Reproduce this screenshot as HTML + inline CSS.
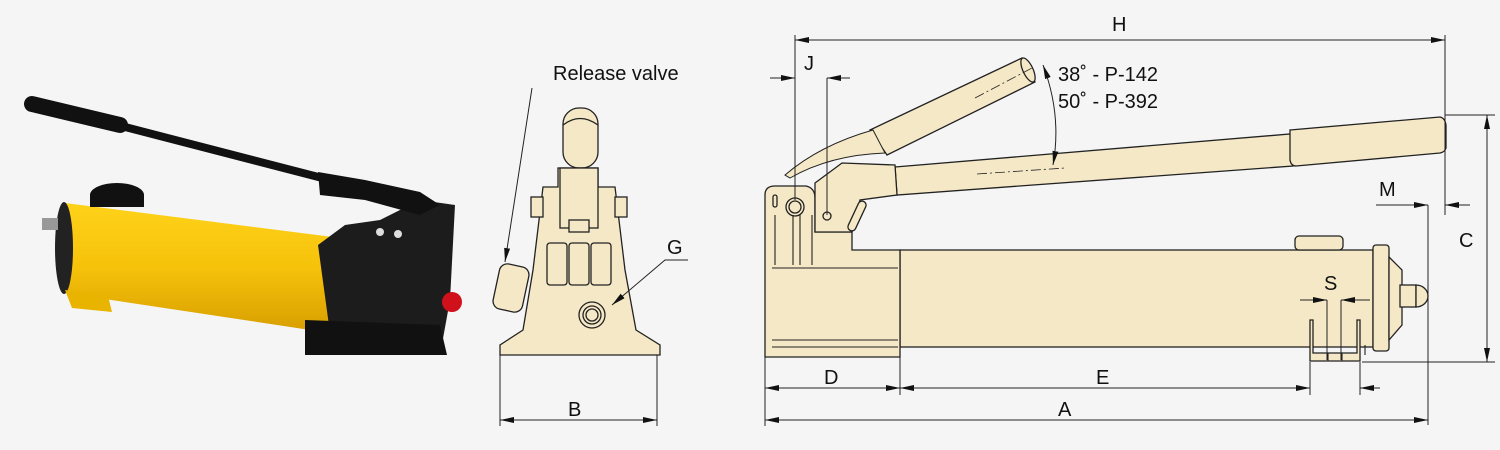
<!DOCTYPE html>
<html><head><meta charset="utf-8"><style>
html,body{margin:0;padding:0;background:#f5f5f5;}
svg{display:block;}
text{font-family:"Liberation Sans",sans-serif;fill:#111;}
</style></head><body>
<svg width="1500" height="450" viewBox="0 0 1500 450" xmlns="http://www.w3.org/2000/svg">
<defs>
<marker id="ar" viewBox="0 0 14 6" refX="14" refY="3" markerWidth="14" markerHeight="6" orient="auto-start-reverse" markerUnits="userSpaceOnUse"><path d="M0,0 L14,3 L0,6z" fill="#111"/></marker>
<linearGradient id="yel" x1="0" y1="0" x2="0" y2="1"><stop offset="0" stop-color="#ffd21a"/><stop offset="0.5" stop-color="#f6c20a"/><stop offset="1" stop-color="#d79e00"/></linearGradient>
</defs>
<rect width="1500" height="450" fill="#f5f5f5"/>

<!-- PHOTO -->
<g>
<polygon points="65,203 333,237 330,333 65,293 58,250" fill="url(#yel)"/>
<ellipse cx="64" cy="248" rx="9" ry="46" fill="#222"/>
<rect x="42" y="218" width="16" height="12" fill="#999"/>
<polygon points="65,290 108,296 112,312 72,308" fill="#e8b400"/>
<ellipse cx="117" cy="195" rx="27" ry="12" fill="#111"/>
<rect x="90" y="195" width="54" height="12" fill="#111"/>
<polygon points="318,245 345,225 380,220 420,200 455,205 450,300 440,355 305,355 305,330 330,333" fill="#1c1c1c"/>
<polygon points="305,320 440,325 447,355 305,355" fill="#111"/>
<circle cx="452" cy="302" r="10" fill="#d0101a"/>
<circle cx="380" cy="232" r="4" fill="#ddd"/><circle cx="398" cy="234" r="4" fill="#ddd"/>
<line x1="125" y1="127" x2="330" y2="180" stroke="#111" stroke-width="8"/>
<line x1="32" y1="104" x2="120" y2="125" stroke="#111" stroke-width="16" stroke-linecap="round"/>
<polygon points="318,172 365,180 420,192 440,205 420,215 365,200 320,195" fill="#111"/>
</g>

<!-- FRONT VIEW -->
<g fill="#f5e8c6" stroke="#222" stroke-width="1.3">
<rect x="563" y="108" width="35" height="60" rx="16"/>
<path d="M563,125 Q580,112 598,125" fill="none"/>
<polygon points="543,187 558,187 558,168 598,168 598,187 615,187 625,270 636,330 660,345 660,355 500,355 500,345 523,330 533,270"/>
<rect x="531" y="197" width="12" height="20"/><rect x="615" y="197" width="12" height="20"/>
<rect x="560" y="168" width="38" height="60"/>
<rect x="569" y="220" width="20" height="12"/>
<rect x="547" y="243" width="20" height="42" rx="3"/><rect x="569" y="243" width="20" height="42" rx="3"/><rect x="591" y="243" width="20" height="42" rx="3"/>
<rect x="496" y="265" width="30" height="46" rx="8" transform="rotate(12 511 288)"/>
<circle cx="592" cy="315" r="13"/><circle cx="592" cy="315" r="9"/><circle cx="592" cy="315" r="6"/>
</g>
<g stroke="#222" stroke-width="1" fill="none">
<line x1="500" y1="355" x2="500" y2="426"/><line x1="657" y1="355" x2="657" y2="426"/>
<line x1="500" y1="420" x2="657" y2="420" marker-start="url(#ar)" marker-end="url(#ar)"/>
<line x1="532" y1="88" x2="505" y2="262" marker-end="url(#ar)"/>
<polyline points="688,260 665,260 612,305" marker-end="url(#ar)"/>
</g>
<text x="553" y="80" font-size="20">Release valve</text>
<text x="667" y="254" font-size="20">G</text>
<text x="568" y="416" font-size="20">B</text>

<!-- SIDE VIEW -->
<g fill="#f5e8c6" stroke="#222" stroke-width="1.3">
<polygon points="870,130 1022,58 1035,82 887,155"/>
<ellipse cx="1028" cy="70" rx="5" ry="13" transform="rotate(-25 1028 70)"/>
<path d="M785,175 Q820,145 873,130 L885,153 Q830,155 790,178z" stroke-width="1"/>
<polygon points="895,167 1290,134 1293,166 897,195"/>
<path d="M1290,130 L1440,117 Q1445,118 1446,125 L1446,148 Q1445,152 1440,153 L1296,166 Q1291,166 1290,160z"/>
<rect x="900" y="250" width="473" height="97"/>
<rect x="1295" y="236" width="48" height="14" rx="4"/>
<rect x="1373" y="245" width="16" height="106" rx="3"/>
<polygon points="1389,257 1402,270 1402,325 1389,340"/>
<rect x="1400" y="285" width="16" height="22"/>
<path d="M1416,285 A12,11 0 0 1 1416,307z"/>
<path d="M1310,320 L1310,361 L1360,361 L1360,320 L1357,320 L1357,353 L1313,353 L1313,320z"/>
<path d="M765,195 Q765,186 775,186 L806,186 Q815,188 815,198 L815,232 L852,232 L852,250 L900,250 L900,357 L765,357z"/>
<path d="M815,183 L842,163 L895,165 L897,195 L860,200 L852,232 L815,232z"/>
<rect x="853" y="200" width="8" height="32" rx="4" transform="rotate(25 857 216)"/>
<circle cx="795" cy="207" r="9"/><circle cx="795" cy="207" r="6"/>
<circle cx="827" cy="216" r="4"/>
<rect x="773" y="195" width="4" height="12" rx="2"/>
</g>
<g stroke="#222" stroke-width="1.1" fill="none">
<line x1="772" y1="268" x2="898" y2="268"/>
<line x1="772" y1="340" x2="898" y2="340"/><line x1="772" y1="347" x2="898" y2="347"/>
<path d="M775,215 L775,265 M793,215 L793,265 M800,215 L800,265 M812,215 L812,265"/>
<path d="M1365,355 L1365,345 M1328,353 L1328,361 M1342,353 L1342,361"/>
</g>
<g stroke="#222" stroke-width="0.8" stroke-dasharray="10,3,2,3" fill="none">
<line x1="975" y1="98" x2="1032" y2="68"/>
<line x1="977" y1="174" x2="1065" y2="168"/>
</g>
<g stroke="#222" stroke-width="1" fill="none">
<line x1="795" y1="35" x2="795" y2="200"/>
<line x1="1445" y1="35" x2="1445" y2="215"/>
<line x1="795" y1="40" x2="1445" y2="40" marker-start="url(#ar)" marker-end="url(#ar)"/>
<line x1="827" y1="78" x2="827" y2="215"/>
<line x1="770" y1="78" x2="795" y2="78" marker-end="url(#ar)"/>
<line x1="850" y1="78" x2="827" y2="78" marker-end="url(#ar)"/>
<path d="M1043,65 Q1062,115 1053,165" marker-start="url(#ar)" marker-end="url(#ar)"/>
<line x1="1445" y1="115" x2="1495" y2="115"/>
<line x1="1362" y1="362" x2="1495" y2="362"/>
<line x1="1487" y1="115" x2="1487" y2="362" marker-start="url(#ar)" marker-end="url(#ar)"/>
<line x1="1428" y1="205" x2="1428" y2="425"/>
<line x1="1376" y1="205" x2="1428" y2="205" marker-end="url(#ar)"/>
<line x1="1470" y1="205" x2="1445" y2="205" marker-end="url(#ar)"/>
<line x1="1327" y1="300" x2="1327" y2="360"/><line x1="1341" y1="300" x2="1341" y2="360"/>
<line x1="1300" y1="300" x2="1327" y2="300" marker-end="url(#ar)"/>
<line x1="1370" y1="300" x2="1341" y2="300" marker-end="url(#ar)"/>
<line x1="765" y1="357" x2="765" y2="426"/>
<line x1="900" y1="357" x2="900" y2="395"/>
<line x1="1310" y1="362" x2="1310" y2="395"/><line x1="1360" y1="362" x2="1360" y2="395"/>
<line x1="765" y1="388" x2="900" y2="388" marker-start="url(#ar)" marker-end="url(#ar)"/>
<line x1="900" y1="388" x2="1310" y2="388" marker-start="url(#ar)" marker-end="url(#ar)"/>
<line x1="1380" y1="388" x2="1360" y2="388" marker-end="url(#ar)"/>
<line x1="765" y1="420" x2="1428" y2="420" marker-start="url(#ar)" marker-end="url(#ar)"/>
</g>
<g font-size="20">
<text x="1112" y="31">H</text>
<text x="804" y="70">J</text>
<text x="1058" y="81">38˚ - P-142</text>
<text x="1058" y="108">50˚ - P-392</text>
<text x="1379" y="196">M</text>
<text x="1459" y="247">C</text>
<text x="1324" y="290">S</text>
<text x="824" y="384">D</text>
<text x="1096" y="384">E</text>
<text x="1058" y="416">A</text>
</g>
</svg>
</body></html>
